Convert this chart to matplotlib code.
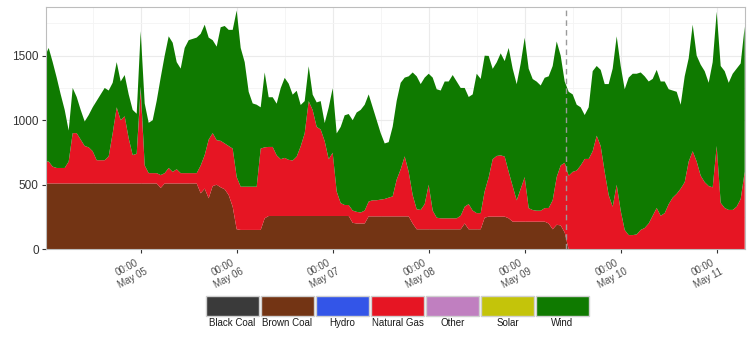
import matplotlib
matplotlib.use("Agg")
import matplotlib.pyplot as plt
import matplotlib.dates as mdates
import matplotlib.transforms as mtransforms
from matplotlib.patches import Rectangle
import pandas as pd

plt.rcParams['font.family'] = ['Liberation Sans', 'DejaVu Sans']

# hourly readings, South Australia generation (MW), from 2016-05-04 00:00
times = pd.date_range('2016-05-04 00:00', periods=176, freq='h')

brown_coal = ([510] * 29 + [475] + [510] * 9 +
              [434, 470, 395, 490, 500, 480, 465, 420, 330, 155] +
              [150] * 6 + [240] + [258] * 21 + [205, 200, 200, 200] +
              [255] * 11 + [200] + [155] * 12 + [200, 155, 155, 155, 155, 245] +
              [253] * 5 + [240] + [214] * 9 + [200, 155, 190, 185, 130] + [0] * 45)

natural_gas = [170, 170, 130, 120, 120, 120, 170, 390, 390, 340,
               290, 280, 250, 180, 180, 180, 210, 390, 590, 490,
               520, 350, 220, 230, 725, 140, 80, 80, 80, 100,
               80, 120, 90, 110, 80, 80, 80, 80, 80, 215,
               260, 455, 410, 345, 360, 355, 380, 450, 405, 335,
               335, 335, 335, 335, 630, 550, 535, 535, 470, 440,
               450, 435, 430, 460, 540, 640, 890, 820, 690, 670,
               580, 440, 490, 190, 100, 85, 85, 95, 90, 85,
               100, 115, 125, 125, 130, 135, 145, 155, 285, 365,
               465, 345, 220, 155, 150, 195, 345, 145, 90, 85,
               85, 85, 85, 85, 105, 130, 195, 145, 125, 125,
               205, 305, 445, 470, 475, 465, 360, 275, 165, 255,
               345, 105, 90, 85, 85, 105, 120, 225, 370, 465,
               540, 570, 600, 610, 650, 700, 700, 760, 880, 800,
               600, 420, 330, 500, 300, 150, 110, 110, 115, 150,
               165, 200, 260, 320, 260, 280, 350, 400, 430, 470,
               520, 680, 760, 680, 570, 520, 490, 480, 800, 360,
               320, 305, 305, 330, 390, 600]

wind = [810, 880, 810, 700, 570, 450, 240, 350, 280, 230,
        190, 250, 340, 460, 510, 560, 510, 390, 350, 300,
        320, 340, 350, 310, 430, 480, 390, 410, 560, 755,
        910, 1020, 1000, 830, 810, 970, 1030, 1040, 1050, 1020,
        1010, 790, 720, 725, 880, 910, 900, 920, 1290, 1075,
        965, 735, 645, 635, 320, 580, 385, 385, 400, 550,
        620, 590, 510, 510, 320, 250, 270, 120, 190, 220,
        140, 400, 500, 450, 590, 695, 705, 700, 770, 795,
        820, 830, 720, 620, 515, 430, 430, 540, 610, 670,
        610, 740, 950, 1030, 975, 980, 860, 1030, 995, 990,
        1060, 1060, 1110, 1060, 990, 920, 830, 900, 1080, 1040,
        1050, 940, 700, 725, 790, 740, 960, 910, 900, 970,
        1080, 1080, 1015, 1000, 970, 1010, 1020, 1040, 1050, 850,
        630, 650, 600, 510, 450, 340, 400, 620, 540, 590,
        680, 860, 1070, 1150, 1120, 1090, 1220, 1250, 1245, 1220,
        1175, 1100, 1060, 1070, 1040, 1020, 890, 830, 790, 650,
        820, 800, 980, 820, 860, 860, 800, 970, 1040, 1060,
        1060, 985, 1055, 1070, 1050, 1125]

black_coal = [0] * 176
hydro = [0] * 176
other = [0] * 24 + [25] + [0] * 151
solar = [0] * 176

fuel_names = ['Black Coal', 'Brown Coal', 'Hydro', 'Natural Gas', 'Other', 'Solar', 'Wind']
fuel_colors = ['#3a3a3a', '#733414', '#3355e8', '#e61523', '#c07fc0', '#c4c40a', '#0f7a00']
closure_time = pd.Timestamp('2016-05-09 10:20')

fig = plt.figure(figsize=(7.54, 3.46), dpi=100)
ax = fig.add_axes([0.0606, 0.2795, 0.9275, 0.6995])

ax.stackplot(times, black_coal, brown_coal, hydro, natural_gas, other, solar, wind,
             colors=fuel_colors, linewidth=0)
ax.axvline(closure_time, color='#9a9a9a', linestyle=(0, (4, 3)), linewidth=1)

ax.set_xlim(pd.Timestamp('2016-05-04 00:15'), pd.Timestamp('2016-05-11 07:05'))
ax.set_ylim(0, 1875)
ax.set_yticks([0, 500, 1000, 1500])
ax.set_yticks([250, 750, 1250, 1750], minor=True)
ax.xaxis.set_major_locator(mdates.DayLocator())
ax.xaxis.set_minor_locator(mdates.HourLocator(byhour=[12]))
ax.xaxis.set_major_formatter(mdates.DateFormatter('%H:%M\n%b %d'))
ax.set_axisbelow(True)
ax.grid(which='major', color='#ebebeb', linewidth=0.8)
ax.grid(which='minor', color='#f4f4f4', linewidth=0.6)

for s in ax.spines.values():
    s.set_color('#bdbdbd')
    s.set_linewidth(0.8)
ax.tick_params(which='major', length=3, color='#333333')
ax.tick_params(which='minor', length=0)
ax.tick_params(axis='y', labelsize=8.5, labelcolor='#333333', pad=2)
ax.tick_params(axis='x', labelsize=7, labelcolor='#4d4d4d', pad=2)
shift = mtransforms.ScaledTranslation(8 / 100, 0, fig.dpi_scale_trans)
for lab in ax.get_xticklabels():
    lab.set_rotation(28)
    lab.set_ha('right')
    lab.set_multialignment('center')
    lab.set_transform(lab.get_transform() + shift)

# legend: swatches in a row, labels under them
for i, (name, col) in enumerate(zip(fuel_names, fuel_colors)):
    x0 = (206 + i * 55) / 754
    fig.add_artist(Rectangle((x0, 1 - 316 / 346), 53 / 754, 20 / 346,
                             transform=fig.transFigure, facecolor=col,
                             edgecolor='#d0d0d0', linewidth=1))
    fig.text(x0 + 26.5 / 754, 1 - 323 / 346, name, ha='center', va='center',
             fontsize=7, color='#1a1a1a')

fig.savefig('out.png', dpi=100)
